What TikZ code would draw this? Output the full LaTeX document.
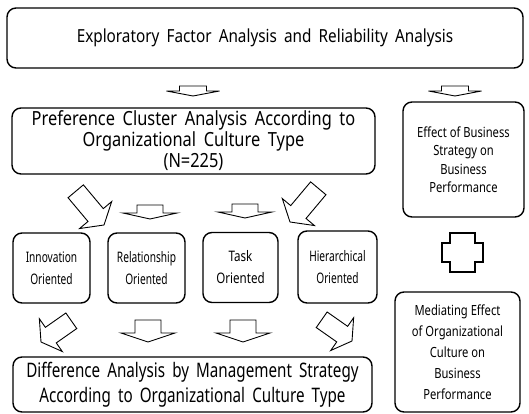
\documentclass[tikz,border=0pt]{standalone}
\usepackage{fontspec}
\setmainfont{Noto Sans}[FakeStretch=0.8]
\newfontfamily\topfont{Noto Sans}[FakeStretch=0.85,WordSpace=1.8]
\newfontfamily\prefont{Noto Sans}[FakeStretch=0.84,WordSpace=1.8]
\newfontfamily\widefont{Noto Sans}[FakeStretch=0.76,WordSpace=1.8]
\newfontfamily\narrowfont{Noto Sans}[FakeStretch=0.7]
\usetikzlibrary{calc}
\def\blockarrow[#1](#2)(#3:#4:#5:#6:#7){\draw[#1,shift={(#2)},rotate=#3] (0,0) -- (#5/2,-#6) -- (#7/2,-#6) -- (#7/2,-#4) -- (-#7/2,-#4) -- (-#7/2,-#6) -- (-#5/2,-#6) -- cycle;}
\tikzset{
	box/.style={draw, rounded corners=9pt, line width=1.4pt, align=center, inner sep=0pt},
	arrowline/.style={line width=0.9pt, fill=white, line join=miter},
}

\begin{document}
\begin{tikzpicture}[x=1pt, y=-1pt]
		%%%%% START %%%%%
		\useasboundingbox (0, 0) rectangle (529, 414);
		
		\node[box, minimum width=516, minimum height=60, font=\topfont\fontsize{18}{20}\selectfont] (explore) at (265, 38) {Exploratory Factor Analysis and Reliability Analysis};
		
		\node[box, minimum width=363, minimum height=66, font=\prefont\fontsize{19.5}{21}\selectfont] (cluster) at (193.5, 141) {Preference Cluster Analysis According to\\Organizational Culture Type\\(N=225)};
		\node[box, minimum width=121, minimum height=115, font=\fontsize{14}{18.5}\selectfont] (effect) at (463.5, 159.5) {Effect of Business\\Strategy on\\Business\\Performance};
		
		\node[box, minimum width=77, minimum height=70, font=\narrowfont\fontsize{14.5}{22}\selectfont] (innov) at (51.5, 268) {Innovation\\Oriented};
		\node[box, minimum width=77, minimum height=70, font=\narrowfont\fontsize{14.5}{22}\selectfont] (relat) at (146.5, 268) {Relationship\\Oriented};
		\node[box, minimum width=75, minimum height=70, font=\fontsize{14.5}{22}\selectfont] (task) at (240.5, 267.5) {Task\\Oriented};
		\node[box, minimum width=79, minimum height=72, font=\narrowfont\fontsize{14.5}{22}\selectfont] (hier) at (337.5, 267) {Hierarchical\\Oriented};
		
		\node[box, minimum width=359, minimum height=55, font=\widefont\fontsize{20}{25}\selectfont] (diff) at (192.5, 384.5) {Difference Analysis by Management Strategy\\According to Organizational Culture Type};
		\node[box, minimum width=125, minimum height=120, font=\fontsize{14}{21}\selectfont] (mediate) at (457.5, 352) {Mediating Effect\\of Organizational\\Culture on\\Business\\Performance};
		
		\blockarrow[arrowline](193, 96)(0:10:53:5:27)
		\blockarrow[arrowline](455, 96)(0:10:53:5:27)
		
		\blockarrow[arrowline](104, 225)(40:44:42:13:20)
		\blockarrow[arrowline](150, 219)(0:14:54:6:26)
		\blockarrow[arrowline](245, 218)(0:14:54:6:26)
		\blockarrow[arrowline](290, 222)(-40:44:42:13:20)
		
		\blockarrow[arrowline](41, 342)(-55:37:40:12:19)
		\blockarrow[arrowline](148, 342)(0:22:54:9:26)
		\blockarrow[arrowline](243, 342)(0:22:54:9:26)
		\blockarrow[arrowline](352, 341)(55:37:40:12:19)
		
		\draw[line width=2pt] (450, 233) -- (475, 233) -- (475, 243) -- (483, 243) -- (483, 262) -- (475, 262) -- (475, 272) -- (450, 272) -- (450, 262) -- (442, 262) -- (442, 243) -- (450, 243) -- cycle;
		
		%%%%% END %%%%%
	\end{tikzpicture}
\end{document}
